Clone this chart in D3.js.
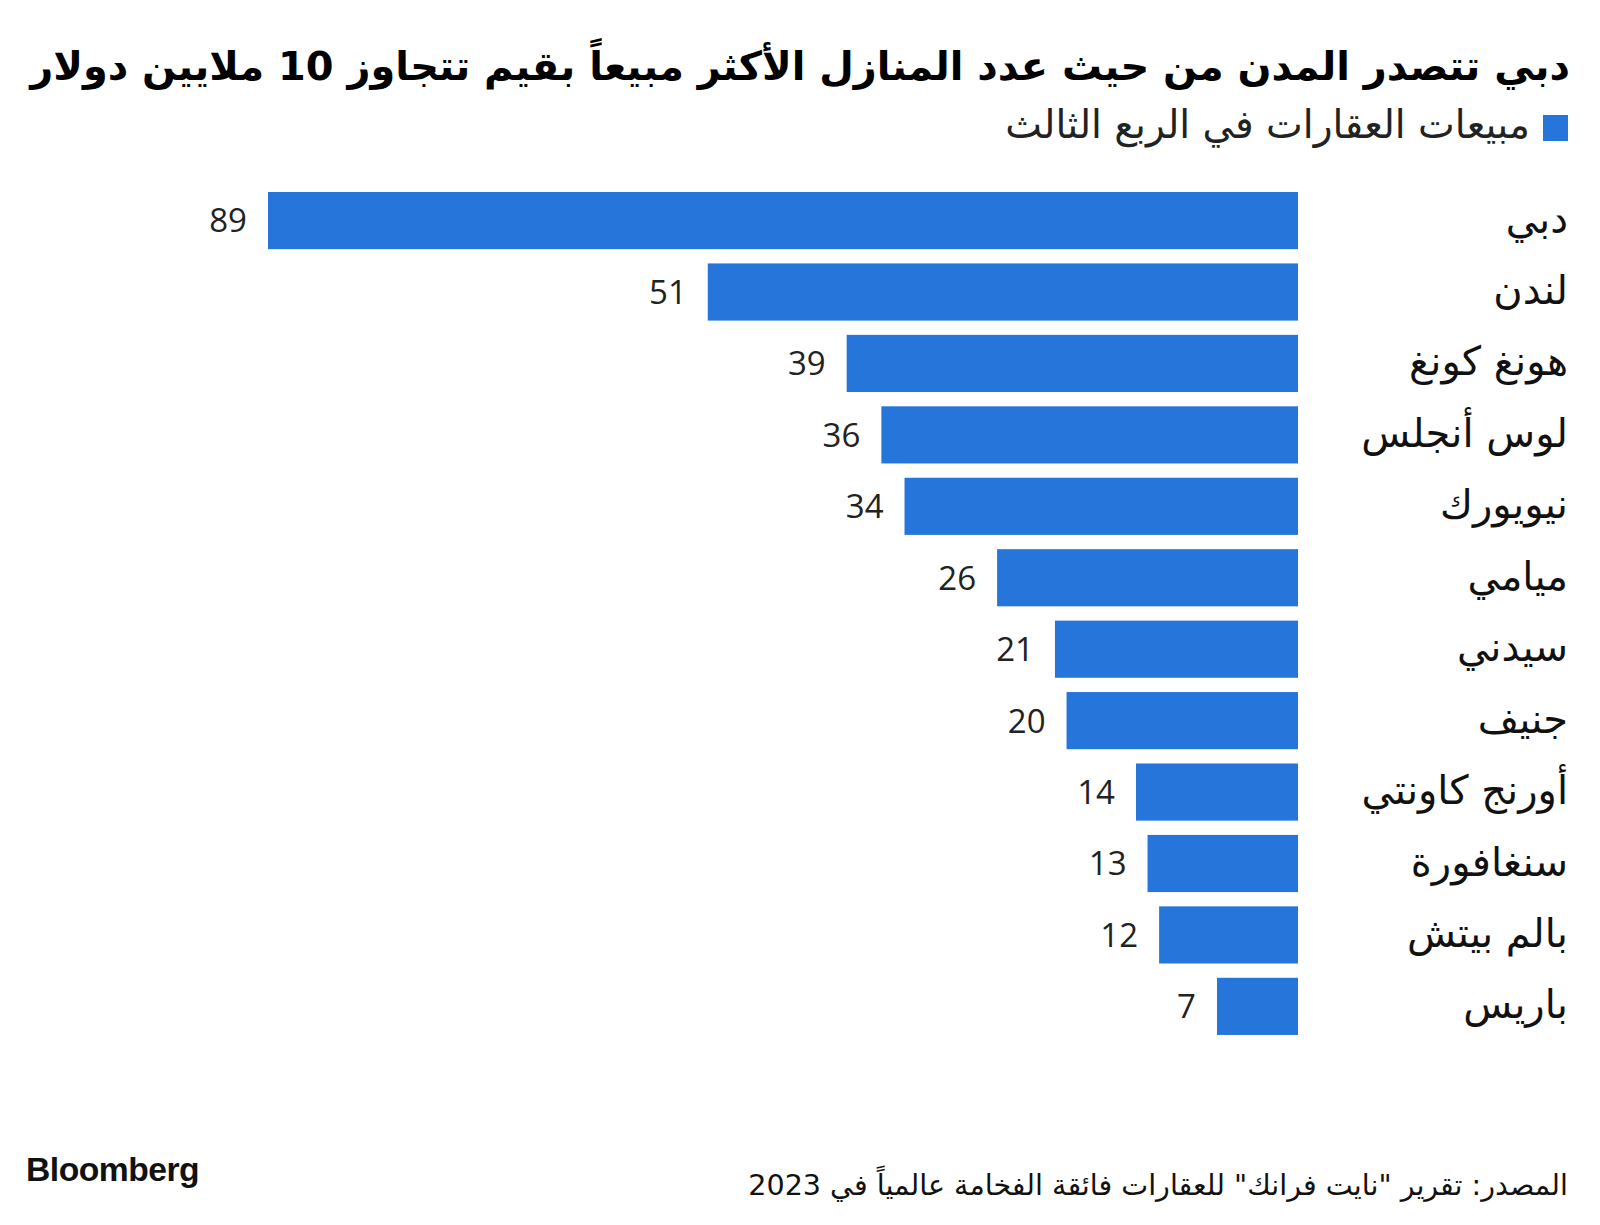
<!DOCTYPE html>
<html><head><meta charset="utf-8">
<script src="https://cdn.jsdelivr.net/npm/d3@7"></script>
<style>body{margin:0;background:#fff}</style>
</head><body>
<svg id="c" width="1600" height="1225"></svg>
<script>
const cities = ["دبي","لندن","هونغ كونغ","لوس أنجلس","نيويورك","ميامي","سيدني","جنيف","أورنج كاونتي","سنغافورة","بالم بيتش","باريس"];
const sales = [89,51,39,36,34,26,21,20,14,13,12,7];
const titleText = "دبي تتصدر المدن من حيث عدد المنازل الأكثر مبيعاً بقيم تتجاوز 10 ملايين دولار";
const legendText = "مبيعات العقارات في الربع الثالث";
const sourceText = "المصدر: تقرير \"نايت فرانك\" للعقارات فائقة الفخامة عالمياً في 2023";

const svg = d3.select("#c");
const arFont = "'DejaVu Sans', 'Noto Sans', sans-serif";
const color = "#2575db";

function fit(sel, w) {
  const n = sel.node();
  const cur = n.getComputedTextLength();
  const fs = parseFloat(sel.attr("font-size"));
  sel.attr("font-size", fs * w / cur);
}

const title = svg.append("text").attr("x", 1570).attr("y", 80).attr("text-anchor","start")
  .attr("direction","rtl").attr("font-family", arFont).attr("font-weight","bold")
  .attr("font-size", 40).attr("fill","#000").text(titleText);
fit(title, 1540);

svg.append("rect").attr("x",1543).attr("y",115).attr("width",25).attr("height",26).attr("fill",color);
const leg = svg.append("text").attr("x",1530).attr("y",138).attr("text-anchor","start")
  .attr("direction","rtl").attr("font-family", arFont).attr("font-size",30).attr("fill","#222").text(legendText);
fit(leg, 525);

const x = d3.scaleLinear().domain([0, 89]).range([1298, 268]);
const y = d3.scaleBand().domain(cities).range([192, 192 + 11*71.45 + 57]).paddingInner(0.2).paddingOuter(0);
const band = y.bandwidth();

const g = svg.append("g");
g.selectAll("rect.bar").data(cities).join("rect").attr("class","bar")
  .attr("x", (d,i)=>x(sales[i])).attr("y", d=>y(d)).attr("width",(d,i)=>x(0)-x(sales[i]))
  .attr("height", band).attr("fill", color);

g.selectAll("text.val").data(cities).join("text").attr("class","val")
  .attr("x",(d,i)=>x(sales[i]) - 21).attr("y", d=>y(d)+band/2).attr("dy","0.36em")
  .attr("text-anchor","end").attr("font-family","'Open Sans', 'Noto Sans', sans-serif")
  .attr("font-size",33).attr("fill","#222").text((d,i)=>sales[i]);

const yAxis = d3.axisRight(y).tickSize(0).tickPadding(0);
const ax = svg.append("g").attr("transform","translate(1568,0)").call(yAxis);
ax.select(".domain").remove();
ax.selectAll("text").attr("text-anchor","start").attr("direction","rtl").attr("x",0)
  .attr("font-family", arFont).attr("font-size",40).attr("fill","#111").attr("dy","0.3em");

const bb = svg.append("text").attr("x",26).attr("y",1181).attr("font-family","'Liberation Sans', Arial, sans-serif")
  .attr("font-weight","bold").attr("font-size",32).attr("fill","#111").attr("letter-spacing","-0.5").text("Bloomberg");
fit(bb, 173);

const src = svg.append("text").attr("x",1568).attr("y",1195).attr("text-anchor","start")
  .attr("direction","rtl").attr("font-family", arFont).attr("font-size",26).attr("fill","#111").text(sourceText);
fit(src, 820);
</script>
</body></html>
